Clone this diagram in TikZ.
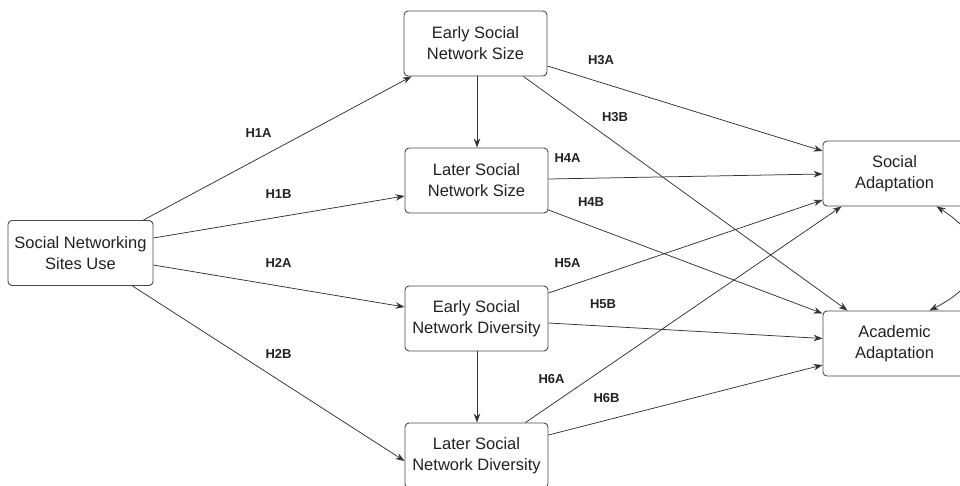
\documentclass[tikz,border=0pt]{standalone}
\usepackage{fontspec}
\setmainfont{Liberation Sans}
\usetikzlibrary{arrows.meta,calc}
\definecolor{boxline}{HTML}{4A4A4A}
\definecolor{edgeline}{HTML}{333333}
\definecolor{txt}{HTML}{222222}
\tikzset{
  box/.style={draw=boxline, line width=0.9pt, rounded corners=4pt, minimum width=143pt, minimum height=65pt, inner sep=0pt, align=center, text=txt, font=\fontsize{16.5}{21}\selectfont},
  hyp/.style={text=txt, font=\fontsize{13}{15}\selectfont\bfseries, inner sep=0pt},
  link/.style={draw=edgeline, line width=0.75pt, -{Stealth[length=9pt,width=6.5pt]}},
}
\begin{document}
\begin{tikzpicture}[x=1pt,y=-1pt]
\useasboundingbox (0,0) rectangle (960,486);
\clip (0,0) rectangle (960,486);
\fill[white] (0,0) rectangle (960,486);

\node[box, minimum width=145pt] (use) at (80.5,253) {Social Networking\\Sites Use};
\node[box] (es) at (475.5,43.5) {Early Social\\Network Size};
\node[box] (ls) at (476.5,180.5) {Later Social\\Network Size};
\node[box] (ed) at (476.5,318.5) {Early Social\\Network Diversity};
\node[box] (ld) at (476.5,455.5) {Later Social\\Network Diversity};
\node[box] (sa) at (894.5,173.5) {Social\\Adaptation};
\node[box] (aa) at (894.5,343.5) {Academic\\Adaptation};

% H1/H2
\draw[link] ($(use.north east)+(-10,0)$) -- ($(es.south west)+(8,0)$);
\draw[link] ($(use.east)+(0,-15)$) -- ($(ls.west)+(0,15.5)$);
\draw[link] ($(use.east)+(0,12)$) -- ($(ed.west)+(0,-11.5)$);
\draw[link] ($(use.south east)+(-21,0)$) -- ($(ld.west)+(0,5.5)$);

% vertical
\draw[link] ($(es.south)+(1.5,0)$) -- ($(ls.north)+(0.5,0)$);
\draw[link] ($(ed.south)+(0.5,0)$) -- ($(ld.north)+(0.5,0)$);

% to Social Adaptation
\draw[link] ($(es.east)+(0,22.5)$) -- ($(sa.west)+(0,-22.5)$);
\draw[link] ($(ls.east)+(0,-1.5)$) -- ($(sa.west)+(0,0.5)$);
\draw[link] ($(ed.east)+(0,-25.5)$) -- ($(sa.west)+(0,26.5)$);
\draw[link] ($(ld.north east)+(-23,0)$) -- ($(sa.south west)+(19,0)$);

% to Academic Adaptation
\draw[link] ($(es.south east)+(-24,0)$) -- ($(aa.north west)+(25,0)$);
\draw[link] ($(ls.east)+(0,29.5)$) -- ($(aa.west)+(0,-30)$);
\draw[link] ($(ed.east)+(0,4.5)$) -- ($(aa.west)+(0,-5)$);
\draw[link] ($(ld.east)+(0,-20.5)$) -- ($(aa.west)+(0,21.5)$);

% bidirectional curve
\draw[draw=edgeline, line width=0.75pt, {Stealth[length=9pt,width=6.5pt]}-{Stealth[length=9pt,width=6.5pt]}]
  ($(sa.south east)+(-30,0)$) .. controls (990,240) and (990,280) .. ($(aa.north east)+(-37,0)$);

% labels
\node[hyp] (h1a) at (258.5,133) {H1A};
\node[hyp] (h1b) at (278.5,194.5) {H1B};
\node[hyp] (h2a) at (278.5,263) {H2A};
\node[hyp] (h2b) at (278.5,354) {H2B};
\node[hyp] (h3a) at (601,60) {H3A};
\node[hyp] (h3b) at (615,117) {H3B};
\node[hyp] (h4a) at (567.5,158) {H4A};
\node[hyp] (h4b) at (591,202) {H4B};
\node[hyp] (h5a) at (567.5,263.5) {H5A};
\node[hyp] (h5b) at (603,304) {H5B};
\node[hyp] (h6a) at (551.5,379) {H6A};
\node[hyp] (h6b) at (606.5,398) {H6B};
\end{tikzpicture}
\end{document}
